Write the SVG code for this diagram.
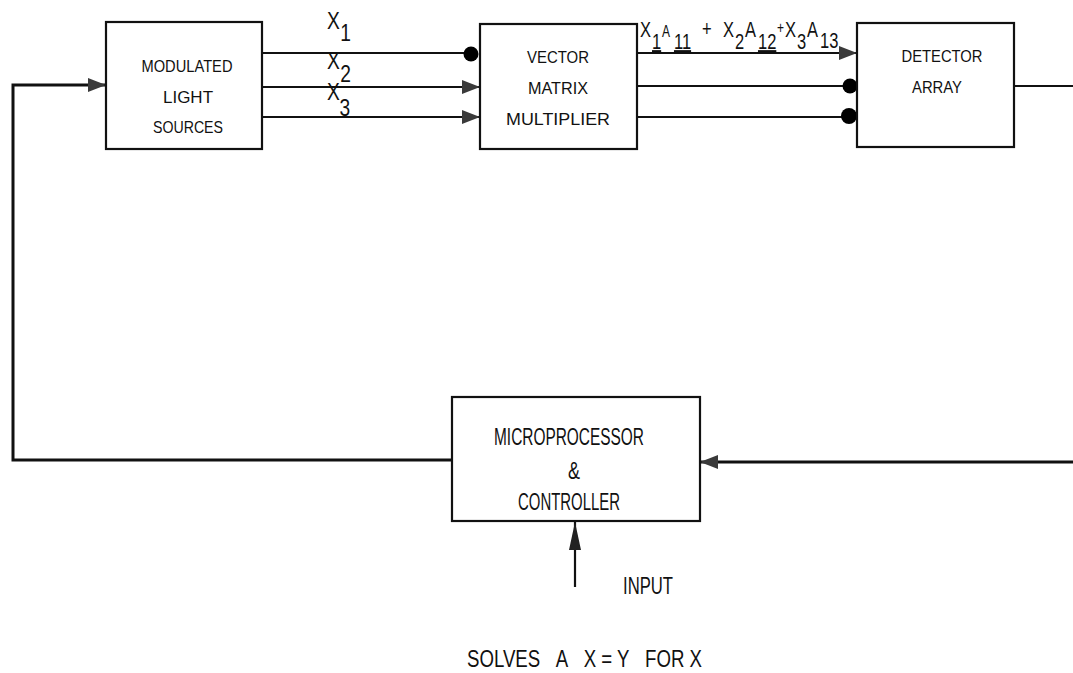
<svg xmlns="http://www.w3.org/2000/svg" width="1073" height="673" viewBox="0 0 1073 673">
<style>
.box{fill:#fff;stroke:#111;stroke-width:2.2}
.ln{fill:none;stroke:#111;stroke-width:2.2}
.t{font-family:"Liberation Sans",Arial,sans-serif;fill:#111}
.s{font-size:17px}
.b{font-size:23px}
.x{font-size:24px}
.m{font-size:22px}
.dot{fill:#000}
</style>
<defs>
<marker id="ah" markerUnits="userSpaceOnUse" markerWidth="20" markerHeight="18" refX="18" refY="9" orient="auto">
<path d="M0,2 L18,9 L0,16 Z" fill="#3a3a3a"/>
</marker>
<marker id="ahL" markerUnits="userSpaceOnUse" markerWidth="30" markerHeight="14" refX="28" refY="7" orient="auto">
<path d="M0,1 L28,7 L0,13 Z" fill="#222"/>
</marker>
</defs>
<rect width="1073" height="673" fill="#fff"/>
<g id="connectors">
<path class="ln" style="stroke-width:3" d="M452,460 H13 V85 H106" marker-end="url(#ah)"/>
<path class="ln" d="M262,53 H470"/>
<circle class="dot" cx="471" cy="54" r="7.5"/>
<path class="ln" d="M262,87 H480" marker-end="url(#ah)"/>
<path class="ln" d="M262,117 H480" marker-end="url(#ah)"/>
<path class="ln" d="M637,53 H857" marker-end="url(#ah)"/>
<path class="ln" d="M637,86 H848"/>
<circle class="dot" cx="850" cy="86" r="7.5"/>
<path class="ln" d="M637,117 H848"/>
<circle class="dot" cx="849" cy="116" r="8"/>
<path class="ln" d="M1014,86 H1073"/>
<path class="ln" style="stroke-width:3" d="M1073,462 H700" marker-end="url(#ah)"/>
<path class="ln" d="M575,587 V522" marker-end="url(#ahL)"/>
</g>
<g id="modulated-light-sources">
<rect class="box" x="106" y="22" width="156" height="127"/>
<text class="t s" x="187" y="72" text-anchor="middle" textLength="91" lengthAdjust="spacingAndGlyphs">MODULATED</text>
<text class="t s" x="188" y="103" text-anchor="middle" textLength="50" lengthAdjust="spacingAndGlyphs">LIGHT</text>
<text class="t s" x="188" y="133" text-anchor="middle" textLength="70" lengthAdjust="spacingAndGlyphs">SOURCES</text>
</g>
<g id="vector-matrix-multiplier">
<rect class="box" x="480" y="24" width="157" height="125"/>
<text class="t s" x="558" y="63" text-anchor="middle" textLength="62" lengthAdjust="spacingAndGlyphs">VECTOR</text>
<text class="t s" x="558" y="94" text-anchor="middle" textLength="60" lengthAdjust="spacingAndGlyphs">MATRIX</text>
<text class="t s" x="558" y="125" text-anchor="middle" textLength="104" lengthAdjust="spacingAndGlyphs">MULTIPLIER</text>
</g>
<g id="detector-array">
<rect class="box" x="857" y="23" width="157" height="124"/>
<text class="t s" x="942" y="62" text-anchor="middle" textLength="81" lengthAdjust="spacingAndGlyphs">DETECTOR</text>
<text class="t s" x="937" y="93" text-anchor="middle" textLength="50" lengthAdjust="spacingAndGlyphs">ARRAY</text>
</g>
<g id="microprocessor-controller">
<rect class="box" x="452" y="397" width="248" height="124"/>
<text class="t b" x="569" y="445" text-anchor="middle" textLength="150" lengthAdjust="spacingAndGlyphs">MICROPROCESSOR</text>
<text class="t b" x="574" y="479" text-anchor="middle" textLength="12" lengthAdjust="spacingAndGlyphs">&amp;</text>
<text class="t b" x="569" y="510" text-anchor="middle" textLength="102" lengthAdjust="spacingAndGlyphs">CONTROLLER</text>
</g>
<g id="labels">
<g transform="translate(327,0) scale(0.8,1)">
<text class="t x" x="0" y="29">X</text>
<text class="t x" x="16.5" y="41">1</text>
<text class="t x" x="0" y="69">X</text>
<text class="t x" x="16.5" y="82">2</text>
<text class="t x" x="0" y="100">X</text>
<text class="t x" x="15.5" y="116">3</text>
</g>
<g transform="translate(640,0) scale(0.75,1)">
<text class="t m" x="0" y="37">X</text>
<text class="t m" x="16" y="49" text-decoration="underline">1</text>
<text class="t" style="font-size:16px" x="29.3" y="37">A</text>
<text class="t m" x="45.3" y="49" text-decoration="underline">11</text>
<text class="t m" x="82.7" y="36">+</text>
<text class="t m" x="110.7" y="37">X</text>
<text class="t m" x="126.7" y="49">2</text>
<text class="t m" x="140" y="37">A</text>
<text class="t m" x="157.3" y="49" text-decoration="underline">12</text>
<text class="t" style="font-size:16px" x="182.7" y="33">+</text>
<text class="t m" x="193.3" y="37">X</text>
<text class="t m" x="209.3" y="49">3</text>
<text class="t m" x="222.7" y="37">A</text>
<text class="t m" x="240" y="48">13</text>
</g>
<text class="t b" x="623" y="594" textLength="50" lengthAdjust="spacingAndGlyphs">INPUT</text>
<text class="t b" x="467" y="667" textLength="235" lengthAdjust="spacingAndGlyphs">SOLVES&#160;&#160;&#160;A&#160;&#160;&#160;X = Y&#160;&#160;&#160;FOR X</text>
</g>
</svg>
